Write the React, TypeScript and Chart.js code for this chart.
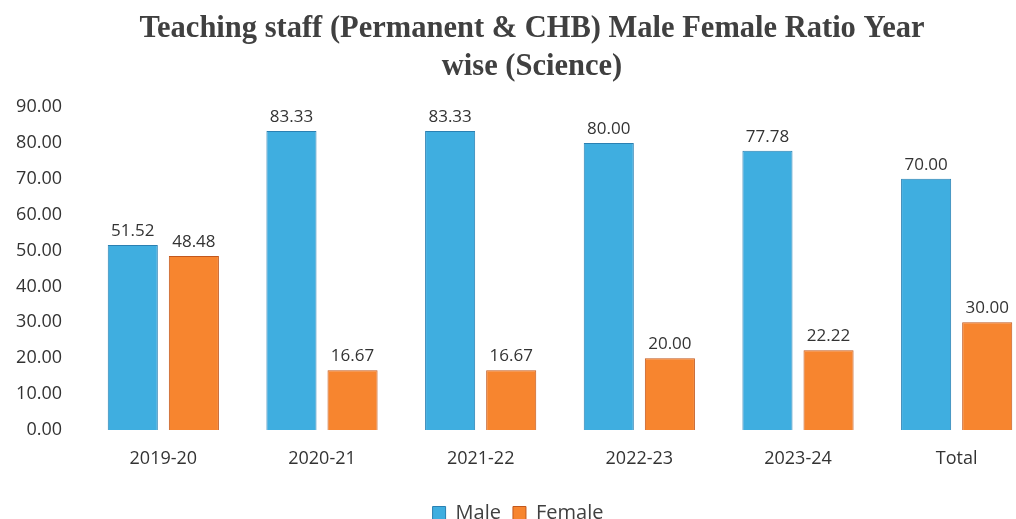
import React, { useEffect, useRef } from "react";
import { Chart, registerables } from "chart.js";

Chart.register(...registerables);

const categories = ["2019-20", "2020-21", "2021-22", "2022-23", "2023-24", "Total"];
const maleValues = [51.52, 83.33, 83.33, 80.0, 77.78, 70.0];
const femaleValues = [48.48, 16.67, 16.67, 20.0, 22.22, 30.0];
const titleLines = ["Teaching staff (Permanent & CHB) Male Female Ratio Year", "wise (Science)"];

const valueLabels = {
  id: "valueLabels",
  afterDatasetsDraw(chart: any) {
    const ctx = chart.ctx;
    ctx.save();
    ctx.font = "17px 'Open Sans'";
    ctx.fillStyle = "#333333";
    ctx.textAlign = "center";
    ctx.textBaseline = "middle";
    chart.data.datasets.forEach((ds: any, di: number) => {
      const meta = chart.getDatasetMeta(di);
      meta.data.forEach((el: any, i: number) => {
        ctx.fillText(Number(ds.data[i]).toFixed(2), el.x, el.y - 14);
      });
    });
    ctx.restore();
  },
};

const centeredTitle = {
  id: "centeredTitle",
  afterDraw(chart: any) {
    const ctx = chart.ctx;
    ctx.save();
    ctx.font = "bold 30.5px 'Liberation Serif'";
    ctx.fillStyle = "#404040";
    ctx.textAlign = "center";
    ctx.textBaseline = "middle";
    titleLines.forEach((line, i) => {
      ctx.fillText(line, chart.width / 2, 29 + i * 38);
    });
    ctx.restore();
  },
};

export default function App() {
  const ref = useRef<HTMLCanvasElement>(null);
  useEffect(() => {
    if (!ref.current) return;
    const chart = new Chart(ref.current, {
      type: "bar",
      data: {
        labels: categories,
        datasets: [
          {
            label: "Male",
            data: maleValues,
            backgroundColor: "#3FAEE0",
            borderColor: "#2A80B2",
            borderWidth: 1,
            barPercentage: 0.82,
            categoryPercentage: 0.77,
          },
          {
            label: "Female",
            data: femaleValues,
            backgroundColor: "#F7852F",
            borderColor: "#C2571C",
            borderWidth: 1,
            barPercentage: 0.82,
            categoryPercentage: 0.77,
          },
        ],
      },
      options: {
        responsive: false,
        animation: false,
        layout: { padding: { left: 0, right: 28, top: 107, bottom: 0 } },
        plugins: {
          title: { display: false },
          legend: {
            position: "bottom",
            labels: {
              color: "#404040",
              font: { family: "'Open Sans'", size: 20 },
              boxWidth: 13,
              boxHeight: 13,
              padding: 12,
            },
          },
          tooltip: { enabled: false },
        },
        scales: {
          x: {
            grid: { display: false, drawTicks: false },
            border: { display: false },
            ticks: { color: "#333333", font: { family: "'Open Sans'", size: 18 }, padding: 18 },
            afterFit: (s: any) => {
              s.height = 61;
            },
          },
          y: {
            min: 0,
            max: 90,
            grid: { display: false, drawTicks: false },
            border: { display: false },
            ticks: {
              stepSize: 10,
              color: "#333333",
              font: { family: "'Open Sans'", size: 18 },
              padding: 22,
              callback: (v: any) => Number(v).toFixed(2),
            },
            afterFit: (s: any) => {
              s.width = 84;
            },
          },
        },
      },
      plugins: [valueLabels, centeredTitle],
    });
    return () => chart.destroy();
  }, []);
  return (
    <div style={{ position: "fixed", left: 0, top: 0, width: 1016, height: 519, overflow: "hidden", background: "#fff" }}>
      <canvas ref={ref} width={1064} height={533} />
    </div>
  );
}
